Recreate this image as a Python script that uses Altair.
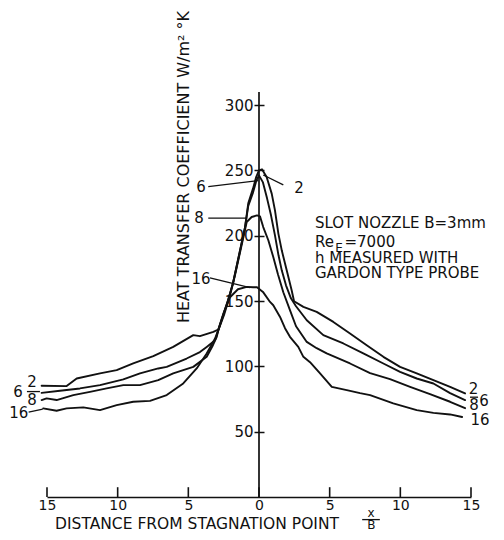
import altair as alt
import pandas as pd

# ---- curve data (x/B, h in W/m^2 K) ----
c2_x = [-15.38, -13.61, -12.90, -11.25, -10.07, -8.90, -7.48, -6.07, -4.65, -4.18, -3.23, -2.88,
        -2.62, -2.19, -1.84, -1.49, -0.99, -0.76, -0.42, -0.21, 0.00, 0.21, 0.54, 0.90, 1.13,
        1.37, 1.61, 1.96, 2.31, 2.48, 3.14, 4.08, 5.26, 6.44, 7.62, 8.80, 9.98, 11.16, 12.34,
        13.52, 14.58]
c2_y = [85.1, 84.9, 90.7, 94.6, 97.1, 102.2, 107.8, 114.9, 123.9, 123.1, 126.4, 128.2,
        136.9, 150.6, 163.6, 181.2, 206.4, 224.8, 236.2, 244.6, 250.0, 250.8, 244.9, 232.2, 219.4,
        201.6, 188.8, 173.5, 158.3, 149.8, 145.5, 141.7, 134.0, 125.2, 116.2, 107.3, 99.6, 94.6, 89.4,
        84.3, 79.3]

c6_x = [-15.38, -14.08, -12.67, -11.25, -9.60, -8.42, -7.13, -6.53, -5.12, -4.18, -3.70, -3.11,
        -2.88, -2.55, -2.19, -1.84, -1.49, -0.99, -0.76, -0.42, -0.18, 0.00, 0.28, 0.57, 0.85,
        1.13, 1.38, 1.61, 1.91, 2.26, 2.62, 3.38, 4.55, 5.97, 7.38, 8.80, 9.98, 11.16, 12.34,
        13.52, 14.58]
c6_y = [79.7, 81.3, 83.1, 85.6, 90.0, 94.6, 98.4, 99.6, 106.0, 110.9, 114.9, 120.0,
        127.7, 138.4, 150.6, 163.6, 181.2, 206.4, 222.8, 233.2, 242.4, 246.2, 240.8, 228.6, 215.6,
        200.3, 185.0, 173.5, 162.0, 152.1, 146.0, 135.3, 123.9, 117.5, 109.9, 102.2, 95.8, 90.7, 86.9,
        79.5, 74.2]

c8_x = [-15.38, -15.03, -14.32, -13.14, -11.96, -10.78, -9.60, -8.42, -7.13, -6.07, -4.65, -3.70,
        -3.26, -2.99, -2.88, -2.48, -2.05, -1.70, -1.34, -1.06, -0.87, -0.52, -0.14, 0.07, 0.30,
        0.66, 1.01, 1.34, 1.72, 2.19, 2.62, 3.38, 4.08, 4.79, 6.44, 7.86, 9.27, 10.69, 12.10,
        13.52, 14.58]
c8_y = [74.2, 75.5, 74.2, 78.0, 80.5, 83.1, 85.6, 85.6, 89.4, 94.6, 99.6, 107.3,
        116.2, 122.6, 127.7, 139.1, 154.4, 169.7, 187.3, 201.1, 210.5, 214.3, 215.6, 214.8, 206.6,
        196.5, 183.7, 170.5, 156.7, 143.0, 130.7, 118.7, 113.9, 109.9, 102.2, 94.8, 90.2, 84.3, 78.7,
        72.9, 68.0]

c16_x = [-15.27, -14.32, -13.61, -12.43, -11.25, -10.07, -8.90, -7.71, -6.53, -5.36, -4.41, -3.70,
         -3.11, -2.88, -2.48, -2.05, -1.49, -0.87, -0.42, -0.14, 0.28, 0.78, 1.01, 1.49, 1.84,
         2.19, 2.78, 3.14, 3.61, 4.32, 5.15, 6.21, 7.15, 7.86, 9.50, 11.16, 12.34, 13.52, 14.37]
c16_y = [67.8, 66.0, 67.8, 68.6, 66.5, 70.3, 72.9, 73.6, 78.0, 86.9, 98.4, 109.9,
         121.3, 127.7, 141.4, 152.9, 159.0, 160.8, 160.6, 160.6, 157.0, 149.3, 146.8, 137.8, 129.2,
         122.6, 114.9, 107.3, 103.2, 94.6, 84.3, 81.8, 79.5, 78.0, 71.6, 66.5, 64.4, 63.2, 61.2]

curve_names = ["2", "6", "8", "16"]

x_ticks = [-15, -10, -5, 0, 5, 10, 15]
y_ticks = [50, 100, 150, 200, 250, 300]

# ---- annotation texts and their anchor points (in data units) ----
label_text = ["2", "8", "6", "16", "2", "6", "8", "16", "2", "6", "8", "16"]
label_x = [-16.06, -16.06, -17.05, -17.0, 15.18, 15.92, 15.21, 15.64, 2.83, -4.10, -4.25, -4.10]
label_y = [88.4, 73.9, 80.0, 64.0, 82.3, 73.5, 70.1, 58.6, 236.9, 237.6, 213.3, 167.2]

lead_x = [-16.42, -16.30, 14.93, 1.72, -3.59, -3.59, -3.47, 7.30]
lead_y = [80.7, 64.9, 76.4, 238.9, 237.6, 213.5, 167.8, -17.3]
lead_x2 = [-15.50, -15.30, 15.50, 0.30, -0.05, -0.87, -0.64, 8.55]
lead_y2 = [80.7, 67.2, 76.4, 246.5, 242.2, 213.5, 160.2, -17.3]

note_text = ["SLOT NOZZLE  B=3mm", "Re", "=7000", "h MEASURED WITH", "GARDON TYPE PROBE"]
note_x = [3.96, 3.96, 6.05, 3.96, 3.96]
note_y = [205.7, 191.2, 191.2, 179.0, 167.6]

sub_text = ["E"]
sub_x = [5.40]
sub_y = [187.8]

y_title = "HEAT TRANSFER COEFFICIENT W/m² °K"
x_title = "DISTANCE FROM STAGNATION POINT"
frac_text = ["x", "B"]
frac_x = [7.92, 7.95]
frac_y = [-15.3, -24.4]

FONT = "DejaVu Sans"
INK = "#111111"

rows = []
for name, xs, ys in zip(curve_names, [c2_x, c6_x, c8_x, c16_x], [c2_y, c6_y, c8_y, c16_y]):
    for i, (a, b) in enumerate(zip(xs, ys)):
        rows.append({"curve": name, "i": i, "x": a, "y": b})
curves = pd.DataFrame(rows)

XS = alt.Scale(domain=[-15, 15], nice=False, zero=False)
YS = alt.Scale(domain=[0, 310], nice=False, zero=False)

lines = alt.Chart(curves).mark_line(color=INK, strokeWidth=1.9, strokeJoin="round", strokeCap="round").encode(
    x=alt.X("x:Q", scale=XS, title="",
            axis=alt.Axis(values=x_ticks, labelExpr="abs(datum.value)", ticks=False, tickSize=0,
                          domain=True, domainColor=INK, domainWidth=1.7, grid=False,
                          labelFont=FONT, labelFontSize=14, labelColor=INK, labelPadding=1,
                          labelFlush=False, labelOverlap=False)),
    y=alt.Y("y:Q", scale=YS, title="",
            axis=alt.Axis(values=y_ticks, offset=-217, tickSize=10, tickColor=INK, tickWidth=1.5,
                          domain=False, grid=False, labelFont=FONT, labelFontSize=15,
                          labelColor=INK, labelPadding=1, labelOverlap=False)),
    detail="curve:N",
    order="i:Q",
)

yaxis_line = alt.Chart(pd.DataFrame({"x": [0], "y": [0], "y2": [310]})).mark_rule(
    color=INK, strokeWidth=1.7).encode(x="x:Q", y="y:Q", y2="y2:Q")

xtick_df = pd.DataFrame({"x": x_ticks, "y": [0] * len(x_ticks), "y2": [7.5] * len(x_ticks)})
xticks = alt.Chart(xtick_df).mark_rule(color=INK, strokeWidth=1.6).encode(
    x="x:Q", y="y:Q", y2="y2:Q")

leaders = alt.Chart(pd.DataFrame({"x": lead_x, "y": lead_y, "x2": lead_x2, "y2": lead_y2})).mark_rule(
    color=INK, strokeWidth=1.3).encode(x="x:Q", y="y:Q", x2="x2:Q", y2="y2:Q")

labels = alt.Chart(pd.DataFrame({"x": label_x, "y": label_y, "t": label_text})).mark_text(
    font=FONT, fontSize=15, color=INK, align="center", baseline="middle").encode(
    x="x:Q", y="y:Q", text="t:N")

notes = alt.Chart(pd.DataFrame({"x": note_x, "y": note_y, "t": note_text})).mark_text(
    font=FONT, fontSize=15, color=INK, align="left", baseline="alphabetic").encode(
    x="x:Q", y="y:Q", text="t:N")

subs = alt.Chart(pd.DataFrame({"x": sub_x, "y": sub_y, "t": sub_text})).mark_text(
    font=FONT, fontSize=12, color=INK, align="left", baseline="alphabetic").encode(
    x="x:Q", y="y:Q", text="t:N")

ytitle = alt.Chart(pd.DataFrame({"x": [-5.31], "y": [252.6], "t": [y_title]})).mark_text(
    font=FONT, fontSize=16, color=INK, align="center", baseline="middle", angle=270).encode(
    x="x:Q", y="y:Q", text="t:N")

xtitle = alt.Chart(pd.DataFrame({"x": [-14.43], "y": [-24.8], "t": [x_title]})).mark_text(
    font=FONT, fontSize=15.5, color=INK, align="left", baseline="alphabetic").encode(
    x="x:Q", y="y:Q", text="t:N")

frac = alt.Chart(pd.DataFrame({"x": frac_x, "y": frac_y, "t": frac_text})).mark_text(
    font=FONT, fontSize=12, color=INK, align="center", baseline="alphabetic").encode(
    x="x:Q", y="y:Q", text="t:N")

chart = alt.layer(
    lines, yaxis_line, xticks, leaders, labels, notes, subs, ytitle, xtitle, frac
).properties(
    width=424, height=405,
    autosize=alt.AutoSizeParams(type="none"),
    padding={"left": 39, "top": 84, "right": 25, "bottom": 35},
    background="white",
).configure_view(strokeWidth=0)

chart.save("out.html", embed_options={"renderer": "svg", "actions": False})
